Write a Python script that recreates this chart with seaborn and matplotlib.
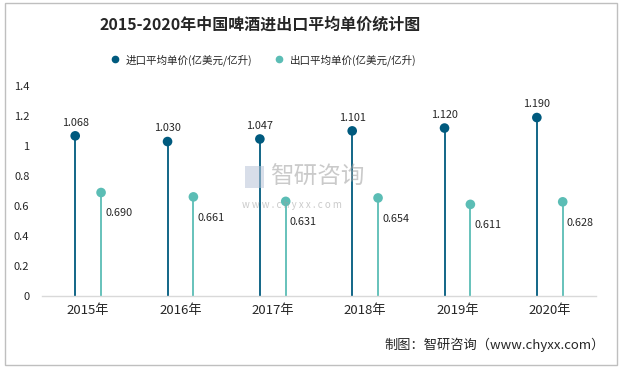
import matplotlib
matplotlib.use("Agg")
import matplotlib.pyplot as plt
import seaborn as sns
import pandas as pd
import numpy as np
from matplotlib.lines import Line2D
from matplotlib.patches import Rectangle

# data
years = ['2015年', '2016年', '2017年', '2018年', '2019年', '2020年']
import_price = [1.068, 1.030, 1.047, 1.101, 1.120, 1.190]
export_price = [0.690, 0.661, 0.631, 0.654, 0.611, 0.628]
series_names = ['进口平均单价(亿美元/亿升)', '出口平均单价(亿美元/亿升)']
colors = ['#005a7e', '#5bbdb5']

sns.set_theme(style="white")
plt.rcParams['font.family'] = ['Noto Sans CJK SC', 'DejaVu Sans']

idx = np.arange(len(years))
offset = 0.14
df = pd.DataFrame({
    'x': np.concatenate([idx - offset, idx + offset]),
    'value': import_price + export_price,
    'series': [series_names[0]] * len(years) + [series_names[1]] * len(years),
})

fig = plt.figure(figsize=(6.2, 3.69), dpi=100)
ax = fig.add_axes([0.0677, 0.1978, 0.8935, 0.569])

# stems
for name, c in zip(series_names, colors):
    sub = df[df['series'] == name]
    ax.vlines(sub['x'], 0, sub['value'], color=c, linewidth=1.3, zorder=2)

sns.scatterplot(data=df, x='x', y='value', hue='series', palette=colors,
                s=48, edgecolor='none', legend=False, ax=ax, zorder=3)

# value labels
for i in idx:
    ax.annotate(f'{import_price[i]:.3f}', (i - offset, import_price[i]),
                xytext=(0, 6), textcoords='offset points', ha='center', va='bottom',
                fontsize=7.8, color='#262626')
    ax.annotate(f'{export_price[i]:.3f}', (i + offset, export_price[i]),
                xytext=(3, -15), textcoords='offset points', ha='left', va='center',
                fontsize=7.8, color='#262626')

ax.set_xlim(-0.5, len(years) - 0.5)
ax.set_ylim(0, 1.4)
ax.set_xticks(idx)
ax.set_xticklabels(years, fontsize=9.5, color='#262626')
ax.set_yticks(np.arange(0, 1.41, 0.2))
ax.set_yticklabels(['0', '0.2', '0.4', '0.6', '0.8', '1', '1.2', '1.4'],
                   fontsize=8, color='#262626')
ax.tick_params(axis='both', length=0)
ax.tick_params(axis='y', pad=9)
ax.tick_params(axis='x', pad=6)
ax.set_xlabel('')
ax.set_ylabel('')
for side in ['top', 'right', 'left']:
    ax.spines[side].set_visible(False)
ax.spines['bottom'].set_color('#d9d9d9')
ax.spines['bottom'].set_linewidth(1)

# title and legend
fig.text(0.42, 0.932, '2015-2020年中国啤酒进出口平均单价统计图', ha='center', va='center',
         fontsize=11.5, fontweight='bold', color='#262626')
handles = [Line2D([], [], marker='o', linestyle='none', markersize=4.5, color=c) for c in colors]
fig.legend(handles, series_names, loc='center', bbox_to_anchor=(0.42, 0.838), ncol=2,
           frameon=False, fontsize=7.6, handletextpad=0.0, columnspacing=1.6,
           labelcolor='#262626')

# watermark
fig.text(0.435, 0.52, '智研咨询', ha='left', va='center', fontsize=17,
         color='#a0a0a0', alpha=0.55)
fig.text(0.39, 0.445, 'w w w . c h y x x . c o m', ha='left', va='center', fontsize=7,
         color='#a0a0a0', alpha=0.55)
fig.patches.append(Rectangle((0.395, 0.49), 0.03, 0.06, transform=fig.transFigure,
                             facecolor='#b8c4d8', alpha=0.55, edgecolor='none'))

# source
fig.text(0.975, 0.065, '制图：智研咨询（www.chyxx.com）', ha='right', va='center',
         fontsize=9.5, color='#262626')

# border
fig.patches.append(Rectangle((0.008, 0.01), 0.987, 0.982, transform=fig.transFigure,
                             fill=False, edgecolor='#bfbfbf', linewidth=1))

fig.savefig('out.png', dpi=100)
